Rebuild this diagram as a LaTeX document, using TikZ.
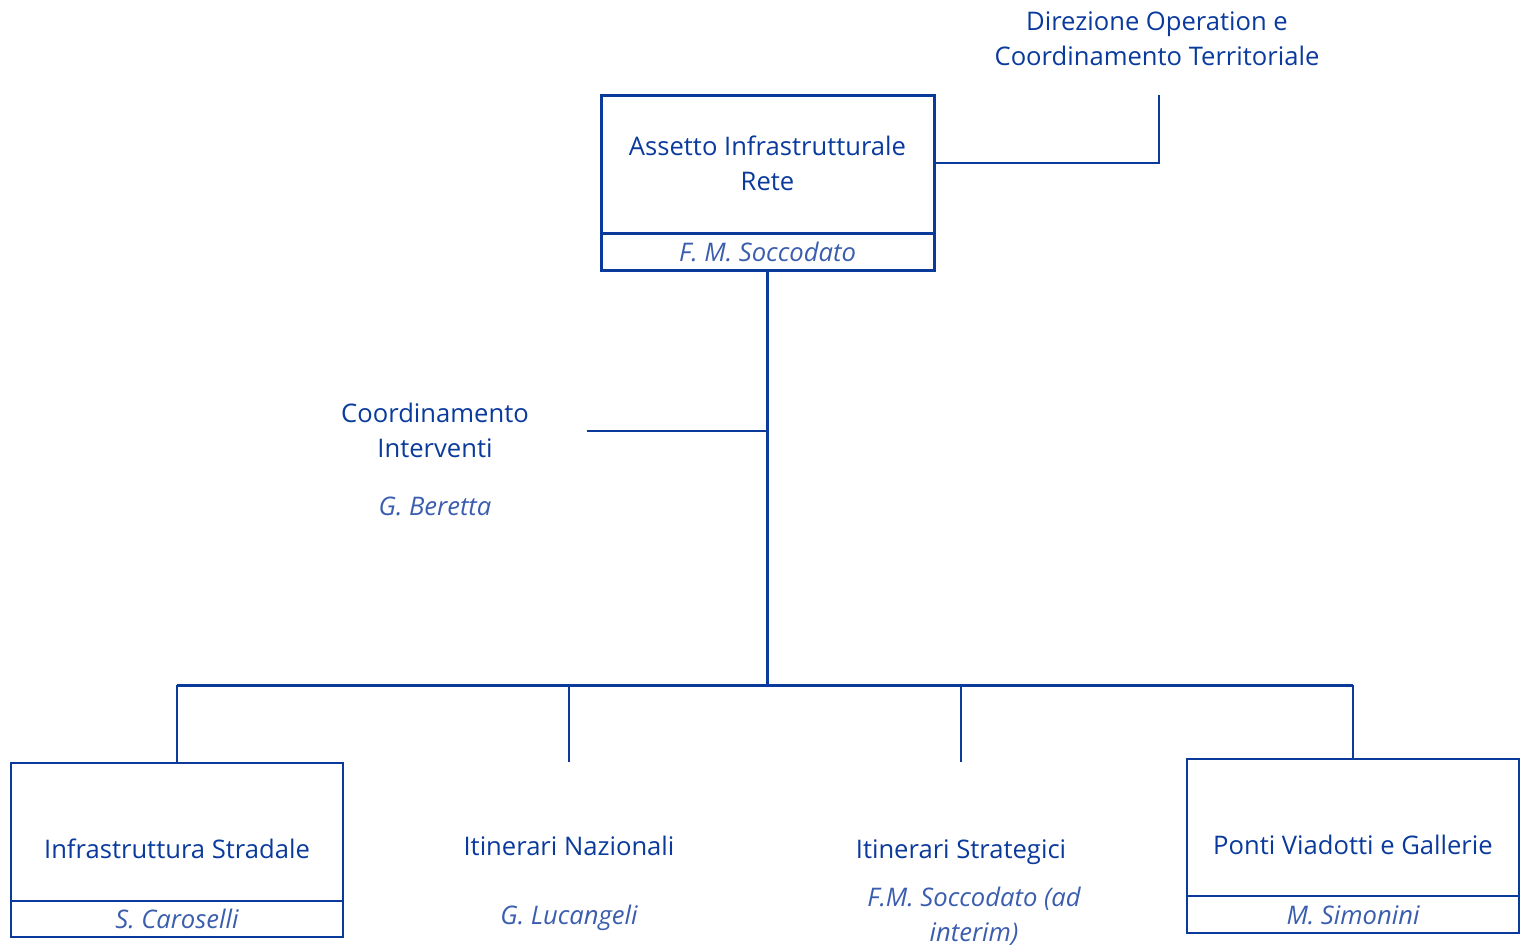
\documentclass[tikz,border=0pt]{standalone}
\usepackage{fontspec}
\setmainfont{Open Sans}
\definecolor{mainblue}{HTML}{0A3A9C}
\definecolor{nameblue}{HTML}{3A5DAE}
\begin{document}
\begin{tikzpicture}[x=1pt,y=-1pt,
  lbl/.style={text=mainblue,font=\fontsize{25.6}{35}\selectfont,align=center,anchor=base,inner sep=0pt},
  nm/.style={text=nameblue,font=\fontsize{25.6}{35}\selectfont\itshape,align=center,anchor=base,inner sep=0pt},
  thickbox/.style={draw=mainblue,line width=3pt,inner sep=0pt,outer sep=0pt},
  thinbox/.style={draw=mainblue,line width=1.5pt,inner sep=0pt,outer sep=0pt},
  conn/.style={draw=mainblue,line width=3pt},
  conn2/.style={draw=mainblue,line width=2pt}]
\useasboundingbox (0,0) rectangle (1520,945);
% top box
\node[thickbox,minimum width=333pt,minimum height=138pt] (ass) at (767.5,164) {};
\node[thickbox,minimum width=333pt,minimum height=37pt] (assn) at (767.5,251.5) {};
\node[lbl] (asst) at (767.5,190) {Assetto Infrastrutturale\\Rete};
\node[nm] (assnt) at (767.5,261) {F. M. Soccodato};
% direzione
\node[lbl] (dir) at (1157,65) {Direzione Operation e\\Coordinamento Territoriale};
\coordinate (dirend) at (1159,95);
\draw[conn2] (ass.east |- 0,163) -| (dirend);
% coordinamento
\node[lbl] (coord) at (435,457) {Coordinamento\\Interventi};
\node[nm] (coordn) at (435,515) {G. Beretta};
\coordinate (coordend) at (587,431);
\coordinate (bus) at (767.5,685);
\draw[conn] (assn.south) -- (bus);
\draw[conn2] (coordend) -- (coordend -| bus);
% bus
\coordinate (b1) at (177,685);
\coordinate (b2) at (569,685);
\coordinate (b3) at (961,685);
\coordinate (b4) at (1353,685);
\draw[conn] (b1) -- (b4);
% bottom boxes
\node[thinbox,minimum width=332pt,minimum height=138pt] (inf) at (177,832) {};
\node[thinbox,minimum width=332pt,minimum height=36pt] (infn) at (177,919) {};
\node[lbl] (inft) at (177,858) {Infrastruttura Stradale};
\node[nm] (infnt) at (177,928) {S. Caroselli};
\node[thinbox,minimum width=332pt,minimum height=137pt] (pon) at (1353,827.5) {};
\node[thinbox,minimum width=332pt,minimum height=37pt] (ponn) at (1353,914.5) {};
\node[lbl] (pont) at (1353,854) {Ponti Viadotti e Gallerie};
\node[nm] (ponnt) at (1353,924) {M. Simonini};
\node[lbl] (naz) at (569,855) {Itinerari Nazionali};
\node[nm] (nazn) at (569,924) {G. Lucangeli};
\node[lbl] (str) at (961,858) {Itinerari Strategici};
\node[nm] (strn) at (974,941) {F.M. Soccodato (ad\\interim)};
\coordinate (nazend) at (569,762);
\coordinate (strend) at (961,762);
\draw[conn2] (b1) -- (inf.north);
\draw[conn2] (b2) -- (nazend);
\draw[conn2] (b3) -- (strend);
\draw[conn2] (b4) -- (pon.north);
\end{tikzpicture}
\end{document}
